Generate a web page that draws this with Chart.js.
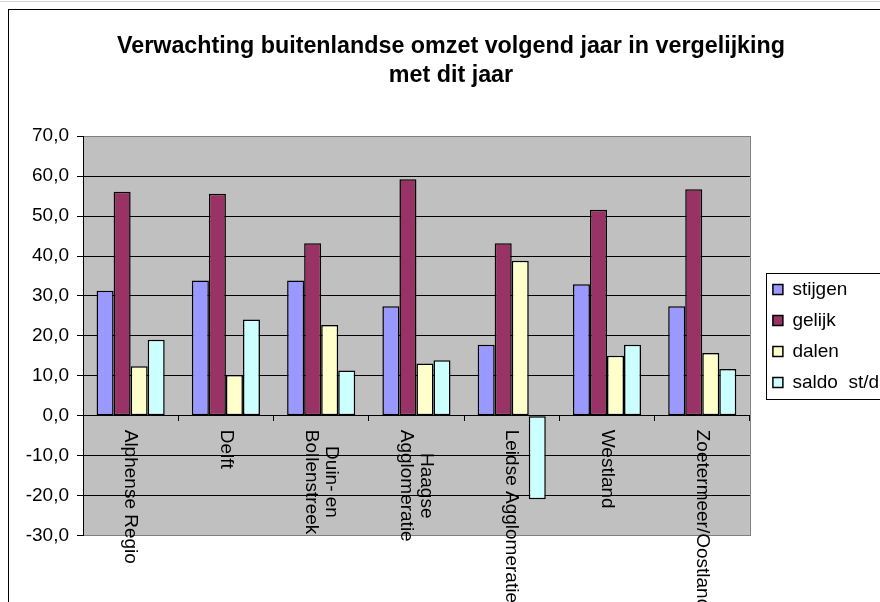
<!DOCTYPE html>
<html>
<head>
<meta charset="utf-8">
<title>Verwachting buitenlandse omzet</title>
<script src="https://cdn.jsdelivr.net/npm/chart.js@4.4.1/dist/chart.umd.min.js"></script>
<style>
    html, body { margin: 0; padding: 0; background: #fff; overflow: hidden; }
    #sheet { position: absolute; left: 0; top: 0; width: 880px; height: 1px; border-bottom: 1px solid #d4d4d4; }
    #frame { position: absolute; left: 8px; top: 9px; width: 900px; height: 620px; border: 1px solid #000; }
    #chart { position: absolute; left: 0; top: 0; }
</style>
</head>
<body>
<div id="sheet"></div>
<div id="frame"></div>
<canvas id="chart" width="880" height="602"></canvas>
<script>
var regions = [
    ["Alphense Regio"],
    ["Delft"],
    ["Duin- en", "Bollenstreek"],
    ["Haagse", "Agglomeratie"],
    ["Leidse Agglomeratie"],
    ["Westland"],
    ["Zoetermeer/Oostland"],
];
var seriesNames = ["stijgen", "gelijk", "dalen", "saldo  st/d"];
var stijgen = [31.3, 33.9, 33.9, 27.4, 17.8, 32.9, 27.4];
var gelijk = [56.1, 55.6, 43.2, 59.2, 43.2, 51.6, 56.7];
var dalen = [12.4, 10.2, 22.7, 13.1, 38.8, 15.0, 15.7];
var saldo = [19.0, 24.1, 11.3, 13.9, -20.9, 17.8, 11.7];
var yMin = -30;
var yMax = 70;
var yStep = 10;

Chart.defaults.font.family = "'Liberation Sans', Arial, sans-serif";
Chart.defaults.color = "#000";

// grey plot area, rotated category names, framed legend
var sheetLook = {
    id: "sheetLook",
    afterLayout: function (chart) {
        // Excel keeps a gap between plot area and legend box,
        // and centres the legend on the plot area
        var a = chart.chartArea;
        var lg = chart.legend;
        var dy = (a.top + a.bottom) / 2 - (lg.top + lg.bottom) / 2;
        lg.left += 11;
        lg.right += 11;
        lg.top += dy;
        lg.bottom += dy;
    },
    beforeDraw: function (chart) {
        var a = chart.chartArea;
        var ctx = chart.ctx;
        ctx.save();
        ctx.fillStyle = "#c0c0c0";
        ctx.fillRect(a.left, a.top, a.right - a.left, a.bottom - a.top);
        ctx.strokeStyle = "#808080";
        ctx.lineWidth = 1;
        ctx.strokeRect(
            Math.round(a.left) + 0.5,
            Math.round(a.top) + 0.5,
            Math.round(a.right - a.left),
            Math.round(a.bottom - a.top),
        );
        ctx.restore();
    },
    afterDraw: function (chart) {
        var ctx = chart.ctx;
        var xs = chart.scales.x;
        var y0 = chart.scales.y.getPixelForValue(0) + 14;
        ctx.save();
        ctx.font = "19px 'Liberation Sans', Arial, sans-serif";
        ctx.fillStyle = "#000";
        ctx.textBaseline = "middle";
        ctx.textAlign = "center";
        chart.data.labels.forEach(function (lines, i) {
            var w = Math.max.apply(
                null,
                lines.map(function (t) {
                    return ctx.measureText(t).width;
                }),
            );
            ctx.save();
            ctx.translate(xs.getPixelForValue(i), y0);
            ctx.rotate(Math.PI / 2);
            lines.forEach(function (t, j) {
                ctx.fillText(t, w / 2, (j - (lines.length - 1) / 2) * 20);
            });
            ctx.restore();
        });

        var hb = chart.legend.legendHitBoxes;
        var first = hb[0];
        var last = hb[hb.length - 1];
        ctx.strokeStyle = "#000";
        ctx.lineWidth = 1;
        ctx.strokeRect(
            Math.round(first.left - 7) + 0.5,
            Math.round(first.top - 7) + 0.5,
            200,
            Math.round(last.top + last.height - first.top + 14),
        );
        ctx.restore();
    },
};

function barSet(label, data, color) {
    return {
        label: label,
        data: data,
        backgroundColor: color,
        borderColor: "#000",
        borderWidth: 1.5,
        borderSkipped: false,
        categoryPercentage: 0.715,
        barPercentage: 1,
    };
}

var ctx = document.getElementById("chart").getContext("2d");
var chart = new Chart(ctx, {
    type: "bar",
    data: {
        labels: regions,
        datasets: [
            barSet(seriesNames[0], stijgen, "#9999ff"),
            barSet(seriesNames[1], gelijk, "#993366"),
            barSet(seriesNames[2], dalen, "#ffffcc"),
            barSet(seriesNames[3], saldo, "#ccffff"),
        ],
    },
    options: {
        responsive: false,
        animation: false,
        layout: {
            padding: { left: 24, right: 2, top: 0, bottom: 66.5 },
        },
        plugins: {
            title: {
                display: true,
                text: [
                    "Verwachting buitenlandse omzet volgend jaar in vergelijking",
                    "met dit jaar",
                ],
                color: "#000",
                font: { size: 23.3, weight: "bold", lineHeight: 1.25 },
                padding: { top: 32, bottom: 46 },
            },
            legend: {
                position: "right",
                labels: {
                    color: "#000",
                    font: { size: 19 },
                    boxWidth: 10,
                    boxHeight: 10,
                    padding: 12,
                },
            },
            tooltip: { enabled: false },
        },
        scales: {
            x: {
                position: { y: 0 },
                ticks: { display: false },
                grid: {
                    display: true,
                    drawOnChartArea: false,
                    drawTicks: true,
                    tickLength: 5,
                    color: "#000",
                },
                border: { display: true, color: "#000" },
            },
            y: {
                min: yMin,
                max: yMax,
                ticks: {
                    stepSize: yStep,
                    padding: 8,
                    color: "#000",
                    font: { size: 19 },
                    callback: function (v) {
                        return v.toFixed(1).replace(".", ",");
                    },
                },
                grid: {
                    color: function (c) {
                        if (c.tick && (c.tick.value === yMax || c.tick.value === yMin)) {
                            return "#808080";
                        }
                        return "#000";
                    },
                    tickColor: "#000",
                    tickLength: 6,
                },
                border: { color: "#000" },
                afterFit: function (scale) {
                    scale.width = 59;
                },
            },
        },
    },
    plugins: [sheetLook],
});
</script>
</body>
</html>
